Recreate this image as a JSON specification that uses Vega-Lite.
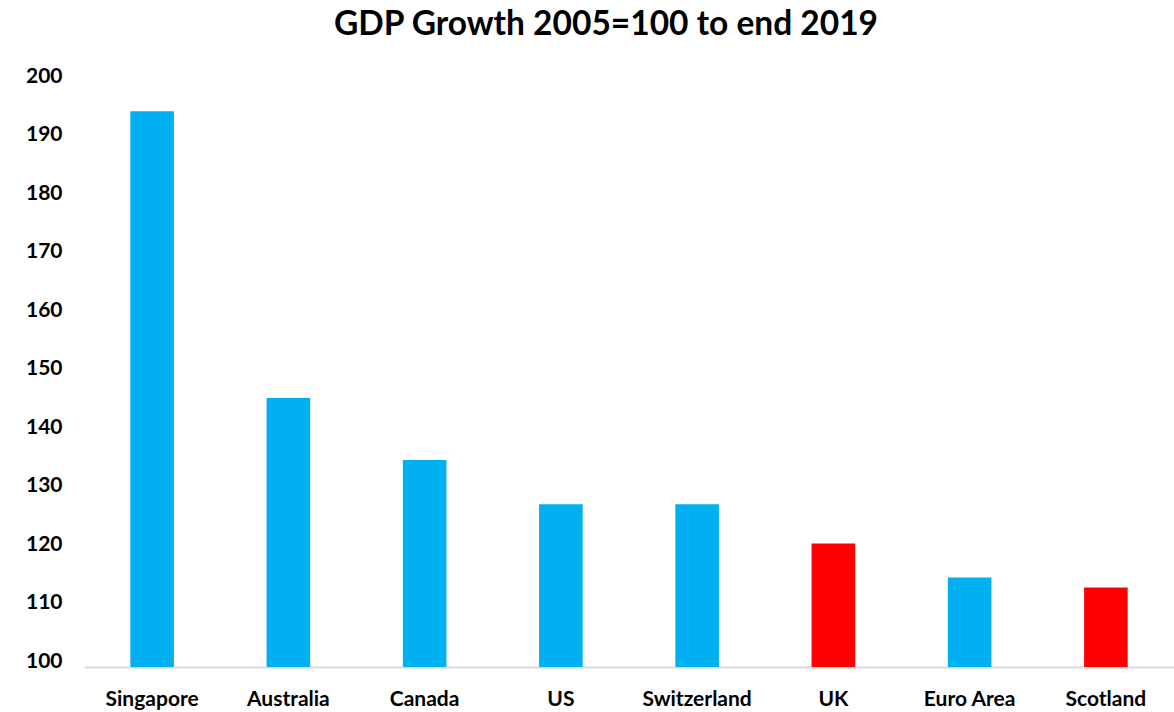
{
  "$schema": "https://vega.github.io/schema/vega-lite/v6.json",
  "width": 1090,
  "height": 585,
  "autosize": {"type": "none"},
  "padding": {"left": 84, "top": 82, "right": 0, "bottom": 45},
  "background": "white",
  "title": {
    "text": "GDP Growth 2005=100 to end 2019",
    "font": "Lato",
    "fontSize": 33.5,
    "fontWeight": "bold",
    "color": "#000000",
    "anchor": "middle",
    "offset": 23,
    "dx": -23
  },
  "config": {
    "view": {"stroke": null},
    "font": "Lato"
  },
  "data": {
    "values": [
      {"country": "Singapore", "value": 195.0, "group": "other"},
      {"country": "Australia", "value": 146.0, "group": "other"},
      {"country": "Canada", "value": 135.4, "group": "other"},
      {"country": "US", "value": 127.8, "group": "other"},
      {"country": "Switzerland", "value": 127.8, "group": "other"},
      {"country": "UK", "value": 121.1, "group": "uk"},
      {"country": "Euro Area", "value": 115.3, "group": "other"},
      {"country": "Scotland", "value": 113.6, "group": "uk"}
    ]
  },
  "mark": {"type": "bar"},
  "encoding": {
    "x": {
      "field": "country",
      "type": "nominal",
      "sort": null,
      "scale": {"paddingInner": 0.68, "paddingOuter": 0.34},
      "axis": {
        "title": null,
        "labelAngle": 0,
        "labelFont": "Lato",
        "labelFontSize": 21,
        "labelFontWeight": "bold",
        "labelColor": "#000000",
        "labelPadding": 21,
        "ticks": false,
        "domainColor": "#d9d9d9",
        "domainWidth": 2,
        "grid": false
      }
    },
    "y": {
      "field": "value",
      "type": "quantitative",
      "scale": {"domain": [100, 200], "nice": false, "zero": false},
      "axis": {
        "title": null,
        "values": [100, 110, 120, 130, 140, 150, 160, 170, 180, 190, 200],
        "labelFont": "Lato",
        "labelFontSize": 21,
        "labelFontWeight": "bold",
        "labelColor": "#000000",
        "labelPadding": 22,
        "labelOffset": -6,
        "ticks": false,
        "domain": false,
        "grid": false
      }
    },
    "y2": {"datum": 100},
    "color": {
      "field": "group",
      "type": "nominal",
      "scale": {"domain": ["other", "uk"], "range": ["#00B0F0", "#FF0000"]},
      "legend": null
    }
  }
}
